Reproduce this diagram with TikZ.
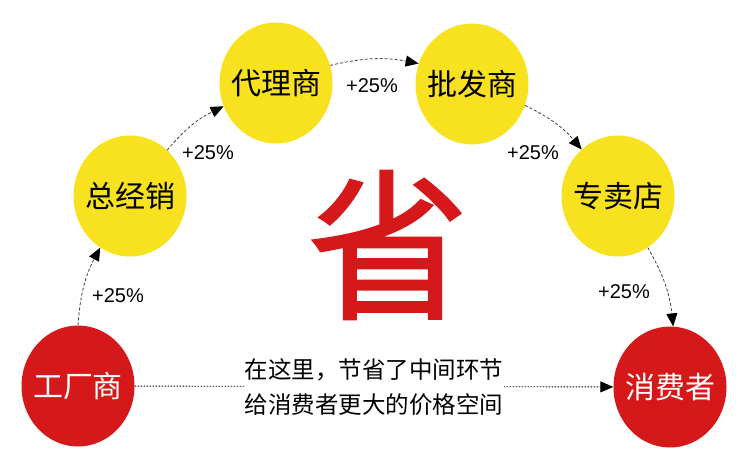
\documentclass[tikz,border=0pt]{standalone}
\usepackage{fontspec}
\setmainfont{Noto Sans CJK SC}
\newfontfamily\latinfont{Liberation Sans}
\newfontfamily\heavyfont[FakeBold=1.3]{Noto Sans CJK SC}
\usetikzlibrary{shapes.geometric,arrows.meta}
\definecolor{dotyellow}{HTML}{F8E11F}
\definecolor{dotred}{HTML}{D5191A}

\begin{document}
\begin{tikzpicture}[x=1pt,y=-1pt,
    stage/.style={ellipse,minimum width=113pt,minimum height=121pt,inner xsep=-6pt,inner ysep=0pt,fill=dotyellow,font=\fontsize{30}{30}\selectfont},
    endpoint/.style={stage,fill=dotred,text=white},
    flow/.style={draw=black!75,line width=0.8pt,dash pattern=on 3pt off 2pt,-{Triangle[length=13pt,width=11pt,black]},bend left=12},
    markup/.style={font=\latinfont\fontsize{20}{20}\selectfont}]
    \useasboundingbox (0,0) rectangle (742,467);

    \node[text=dotred,font=\heavyfont\fontsize{162}{162}\selectfont] (Save) at (388,245) {省};

    \node[endpoint] (Factory) at (78,386) {工厂商};
    \node[stage] (Distributor) at (130,196) {总经销};
    \node[stage] (Agent) at (276,83) {代理商};
    \node[stage] (Wholesaler) at (472,84) {批发商};
    \node[stage] (Store) at (618,196) {专卖店};
    \node[endpoint] (Consumer) at (670,387) {消费者};

    \draw[flow] (Factory.90) to (Distributor.240);
    \draw[flow] (Distributor.51) to (Agent.204);
    \draw[flow] (Agent.18) to (Wholesaler.159);
    \draw[flow] (Wholesaler.338) to (Store.128);
    \draw[flow] (Store.300) to (Consumer.87);
    \draw[line width=0.9pt,dash pattern=on 1.5pt off 1.5pt,-{Triangle[length=13pt,width=11pt]}] (Factory) -- (Consumer);

    \node[markup] (MarkupA) at (118,296) {+25\%};
    \node[markup] (MarkupB) at (208,153) {+25\%};
    \node[markup] (MarkupC) at (372,86) {+25\%};
    \node[markup] (MarkupD) at (533,153) {+25\%};
    \node[markup] (MarkupE) at (624,292) {+25\%};

    \node[align=center,fill=white,inner sep=1pt,font=\fontsize{23.5}{35}\selectfont] (Note) at (374,387) {在这里，节省了中间环节\\给消费者更大的价格空间};
\end{tikzpicture}
\end{document}
